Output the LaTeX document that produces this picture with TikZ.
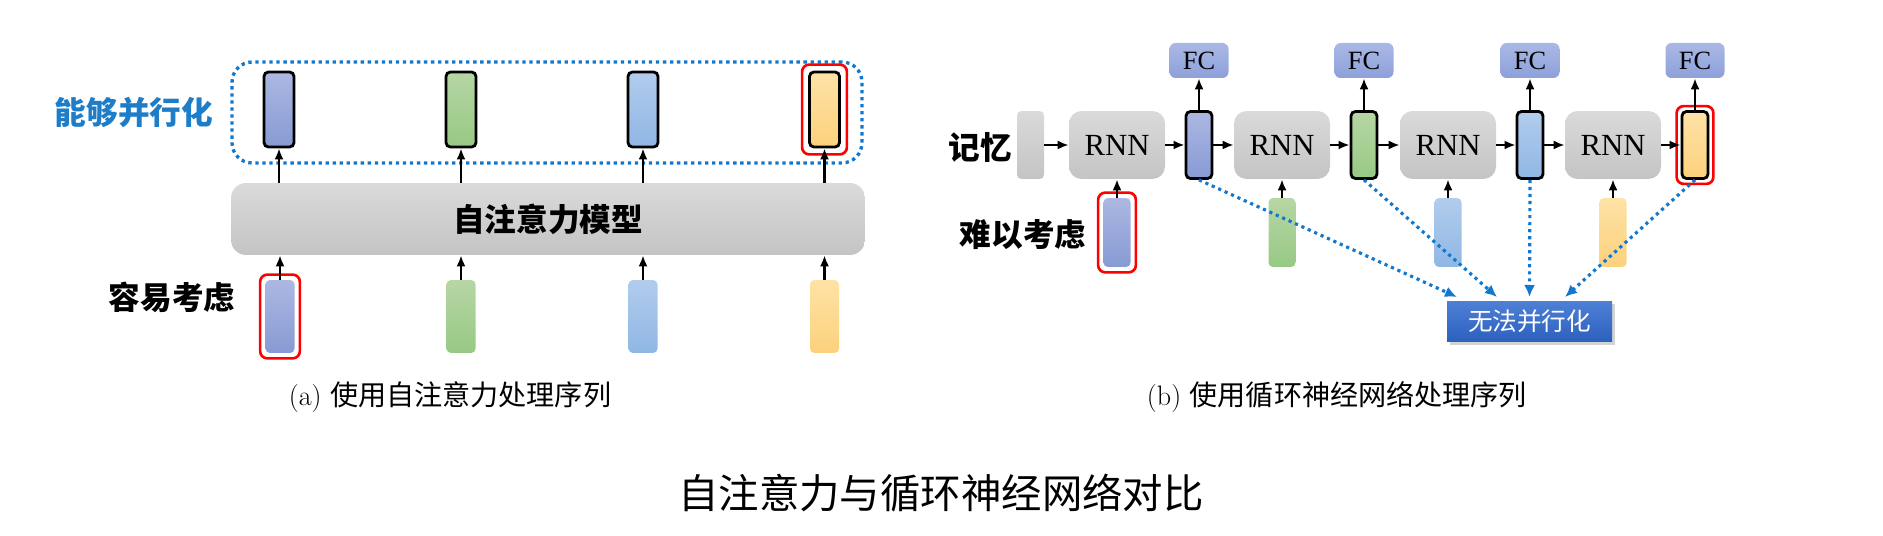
\documentclass[tikz,border=0pt]{standalone}
\usepackage{fontspec}
\newfontfamily\cjk{Noto Sans CJK SC}
\newfontfamily\tms{Liberation Serif}
\usetikzlibrary{arrows.meta,shadows,fit}

\definecolor{vbluet}{RGB}{172,184,226}
\definecolor{vblueb}{RGB}{135,154,212}
\definecolor{vgreent}{RGB}{183,214,165}
\definecolor{vgreenb}{RGB}{151,201,132}
\definecolor{vskyt}{RGB}{178,204,237}
\definecolor{vskyb}{RGB}{143,183,228}
\definecolor{vyellowt}{RGB}{254,226,166}
\definecolor{vyellowb}{RGB}{252,209,124}
\definecolor{grayt}{RGB}{218,218,218}
\definecolor{grayb}{RGB}{196,196,196}
\definecolor{fct}{RGB}{170,184,228}
\definecolor{fcb}{RGB}{140,160,218}
\definecolor{npt}{RGB}{78,128,214}
\definecolor{npb}{RGB}{44,96,190}
\definecolor{dotblue}{RGB}{18,120,205}
\definecolor{lblblue}{RGB}{30,125,200}

\begin{document}
\begin{tikzpicture}[x=0.02cm,y=-0.02cm,
    vec/.style={draw=black,line width=1.6pt,rounded corners=2.5pt,minimum width=0.6cm,minimum height=1.5cm,inner sep=0pt},
    inp/.style={rounded corners=2.5pt,minimum width=0.58cm,minimum height=1.46cm,inner sep=0pt},
    hid/.style={draw=black,line width=1.6pt,rounded corners=2.5pt,minimum width=0.52cm,minimum height=1.34cm,inner sep=0pt},
    seqin/.style={rounded corners=2.5pt,minimum width=0.54cm,minimum height=1.38cm,inner sep=0pt},
    rnnbox/.style={top color=grayt,bottom color=grayb,rounded corners=0.25cm,minimum width=1.92cm,minimum height=1.36cm,inner sep=0pt,font=\tms\fontsize{17.5pt}{20pt}\selectfont},
    fcbox/.style={top color=fct,bottom color=fcb,rounded corners=0.12cm,minimum width=1.18cm,minimum height=0.7cm,inner sep=0pt,font=\tms\fontsize{15pt}{17pt}\selectfont},
    redmark/.style={draw=red,line width=1.5pt,rounded corners=4pt,inner sep=0.12cm},
    arr/.style={-{Latex[length=2.2mm,width=1.8mm]},line width=1.2pt},
    dotarr/.style={-{Latex[length=2.4mm,width=2.2mm]},draw=dotblue,line width=1.8pt,dash pattern=on 1.8pt off 2.2pt},
    lbl/.style={font=\cjk\bfseries\fontsize{18pt}{21pt}\selectfont},
    captxt/.style={font=\fontsize{16pt}{18pt}\selectfont}
]
\useasboundingbox (0,0) rectangle (1883,536);

% (a) self-attention
\node[draw=dotblue,line width=1.9pt,dash pattern=on 1.9pt off 2.1pt,rounded corners=0.4cm,minimum width=12.6cm,minimum height=2.02cm] (par) at (547,112.5) {};
\node[vec,top color=vbluet,bottom color=vblueb] (t1) at (279,109.5) {};
\node[vec,top color=vgreent,bottom color=vgreenb] (t2) at (461,109.5) {};
\node[vec,top color=vskyt,bottom color=vskyb] (t3) at (643,109.5) {};
\node[vec,top color=vyellowt,bottom color=vyellowb] (t4) at (824.5,109.5) {};
\node[redmark,fit=(t4)] (t4r) {};

\node[top color=grayt,bottom color=grayb,rounded corners=0.3cm,minimum width=12.68cm,minimum height=1.44cm,
      font=\cjk\bfseries\fontsize{18pt}{21pt}\selectfont] (att) at (548,219) {自注意力模型};

\node[inp,top color=vbluet,bottom color=vblueb] (x1) at (280,316.5) {};
\node[inp,top color=vgreent,bottom color=vgreenb] (x2) at (461,316.5) {};
\node[inp,top color=vskyt,bottom color=vskyb] (x3) at (643,316.5) {};
\node[inp,top color=vyellowt,bottom color=vyellowb] (x4) at (824.5,316.5) {};
\node[redmark,inner sep=0.1cm,fit=(x1)] (x1r) {};

\draw[arr] (att.north -| t1) -- (t1.south);
\draw[arr] (att.north -| t2) -- (t2.south);
\draw[arr] (att.north -| t3) -- (t3.south);
\draw[arr] (att.north -| t4) -- (t4.south);
\draw[arr] (x1.north) -- (att.south -| x1);
\draw[arr] (x2.north) -- (att.south -| x2);
\draw[arr] (x3.north) -- (att.south -| x3);
\draw[arr] (x4.north) -- (att.south -| x4);

\node[lbl,text=lblblue] (lpar) at (134,112.5) {能够并行化};
\node[lbl] (leasy) at (172,297) {容易考虑};

% (b) RNN
\node[top color=grayt,bottom color=grayb,rounded corners=2.5pt,minimum width=0.54cm,minimum height=1.36cm,inner sep=0pt] (mem) at (1030.5,145) {};
\node[rnnbox] (r1) at (1117,145) {RNN};
\node[rnnbox] (r2) at (1282,145) {RNN};
\node[rnnbox] (r3) at (1448,145) {RNN};
\node[rnnbox] (r4) at (1613,145) {RNN};

\node[hid,top color=vbluet,bottom color=vblueb] (h1) at (1199,145) {};
\node[hid,top color=vgreent,bottom color=vgreenb] (h2) at (1364,145) {};
\node[hid,top color=vskyt,bottom color=vskyb] (h3) at (1530,145) {};
\node[hid,top color=vyellowt,bottom color=vyellowb] (h4) at (1695,145) {};
\node[redmark,inner sep=0.08cm,fit=(h4)] (h4r) {};

\node[fcbox] (f1) at (1199,60.5) {FC};
\node[fcbox] (f2) at (1364,60.5) {FC};
\node[fcbox] (f3) at (1530,60.5) {FC};
\node[fcbox] (f4) at (1695,60.5) {FC};

\node[seqin,top color=vbluet,bottom color=vblueb] (i1) at (1117,232.5) {};
\node[seqin,top color=vgreent,bottom color=vgreenb] (i2) at (1282,232.5) {};
\node[seqin,top color=vskyt,bottom color=vskyb] (i3) at (1448,232.5) {};
\node[seqin,top color=vyellowt,bottom color=vyellowb] (i4) at (1613,232.5) {};
\node[redmark,inner sep=0.1cm,fit=(i1)] (i1r) {};

\draw[arr] (mem.east) -- (r1.west);
\draw[arr] (r1.east) -- (h1.west);
\draw[arr] (h1.east) -- (r2.west);
\draw[arr] (r2.east) -- (h2.west);
\draw[arr] (h2.east) -- (r3.west);
\draw[arr] (r3.east) -- (h3.west);
\draw[arr] (h3.east) -- (r4.west);
\draw[arr] (r4.east) -- (h4.west);
\draw[arr] (i1.north) -- (r1.south);
\draw[arr] (i2.north) -- (r2.south);
\draw[arr] (i3.north) -- (r3.south);
\draw[arr] (i4.north) -- (r4.south);
\draw[arr] (h1.north) -- (f1.south);
\draw[arr] (h2.north) -- (f2.south);
\draw[arr] (h3.north) -- (f3.south);
\draw[arr] (h4.north) -- (f4.south);

\node[lbl] (lmem) at (980,147) {记忆};
\node[lbl] (lhard) at (1023,235) {难以考虑};

\node[top color=npt,bottom color=npb,minimum width=3.3cm,minimum height=0.82cm,inner sep=0pt,text=white,
      drop shadow={shadow xshift=1.5pt,shadow yshift=-1.5pt,opacity=0.35},
      font=\cjk\fontsize{14pt}{16pt}\selectfont] (nopar) at (1529.5,321.5) {无法并行化};
\coordinate (e1) at (1457,297);
\coordinate (e2) at (1497,297);
\coordinate (e3) at (1529.5,297);
\coordinate (e4) at (1565,297);
\draw[dotarr] (h1.south) -- (e1);
\draw[dotarr] (h2.south) -- (e2);
\draw[dotarr] (h3.south) -- (e3);
\draw[dotarr] (h4.south) -- (e4);

% captions
\node[captxt] (capa) at (450,397) {(a) {\cjk 使用自注意力处理序列}};
\node[captxt] (capb) at (1337,397) {(b) {\cjk 使用循环神经网络处理序列}};
\node[font=\cjk\fontsize{23pt}{26pt}\selectfont] (title) at (941,493) {自注意力与循环神经网络对比};
\end{tikzpicture}
\end{document}
